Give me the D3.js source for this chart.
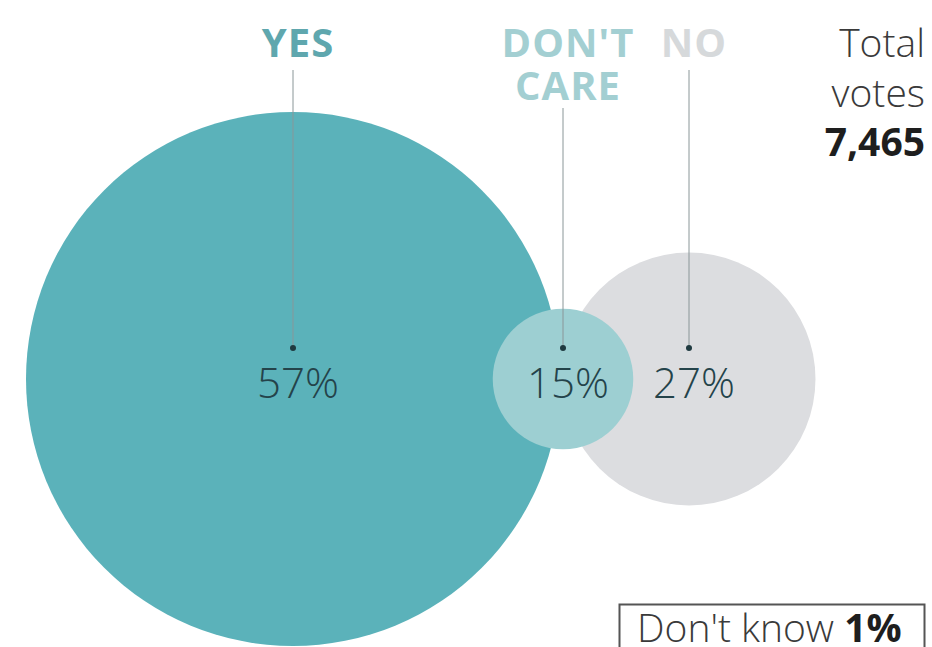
<!DOCTYPE html>
<html>
<head>
<meta charset="utf-8">
<script src="https://cdn.jsdelivr.net/npm/d3@7"></script>
<style>
  body { margin: 0; background: #fff; }
  svg { display: block; font-family: "Open Sans", "Noto Sans", sans-serif; }
</style>
</head>
<body>
<svg id="chart"></svg>
<script>
// answers, shares (%) and label lines
const answers = ["YES", "DON'T CARE", "NO"];
const shares = [57, 15, 27];
const labelLines = [["YES"], ["DON'T", "CARE"], ["NO"]];
const totalVotes = 7465;
const dontKnow = 1;

const width = 932;
const height = 647;
const cy = 379;

const svg = d3.select("#chart")
    .attr("width", width)
    .attr("height", height);

// radius is linear with the share
const r = d3.scaleLinear()
    .domain([0, d3.max(shares)])
    .range([0, 267]);

// circle centres along one row
const x = d3.scaleOrdinal()
    .domain(answers)
    .range([293, 563, 689]);

const fills = d3.scaleOrdinal()
    .domain(answers)
    .range(["#5bb2ba", "#9dcfd2", "#dcdde0"]);

const titleColor = d3.scaleOrdinal()
    .domain(answers)
    .range(["#5fa7ae", "#a3cfd2", "#d6d9db"]);

const data = answers.map((a, i) => ({answer: a, share: shares[i], lines: labelLines[i]}));

// draw order: big, grey, then the small one on top
const drawOrder = [data[0], data[2], data[1]];

svg.append("g")
    .selectAll("circle")
    .data(drawOrder)
    .enter().append("circle")
    .attr("cx", d => x(d.answer))
    .attr("cy", cy)
    .attr("r", d => r(d.share))
    .attr("fill", d => fills(d.answer));

// leader lines and dots
const leaders = svg.append("g");
leaders.selectAll("line")
    .data(data)
    .enter().append("line")
    .attr("x1", d => x(d.answer))
    .attr("x2", d => x(d.answer))
    .attr("y1", d => d.lines.length > 1 ? 108 : 70)
    .attr("y2", cy - 31)
    .attr("stroke", "#8a9698")
    .attr("stroke-width", 1);

leaders.selectAll("circle")
    .data(data)
    .enter().append("circle")
    .attr("cx", d => x(d.answer))
    .attr("cy", cy - 31)
    .attr("r", 3)
    .attr("fill", "#1f3a40");

// category titles
const titles = svg.append("g")
    .attr("text-anchor", "middle")
    .attr("font-weight", 700)
    .attr("font-size", 40)
    .attr("letter-spacing", 1);

titles.selectAll("text")
    .data(data)
    .enter().append("text")
    .attr("y", 57)
    .attr("fill", d => titleColor(d.answer))
    .selectAll("tspan")
    .data(d => d.lines.map((l, i) => ({l, i, x: x(d.answer) + 5})))
    .enter().append("tspan")
    .attr("x", t => t.x)
    .attr("dy", t => t.i === 0 ? 0 : 43)
    .text(t => t.l);

// percent labels
svg.append("g")
    .attr("text-anchor", "middle")
    .attr("font-weight", 300)
    .attr("font-size", 42)
    .attr("fill", "#24434a")
    .selectAll("text")
    .data(data)
    .enter().append("text")
    .attr("x", d => x(d.answer) + 5)
    .attr("y", 398)
    .text(d => d.share + "%");

// total votes
const total = svg.append("text")
    .attr("text-anchor", "end")
    .attr("font-size", 39)
    .attr("font-weight", 300)
    .attr("fill", "#3a3a3a");
total.append("tspan").attr("x", 925).attr("y", 57).text("Total");
total.append("tspan").attr("x", 925).attr("y", 107).text("votes");
total.append("tspan").attr("x", 925).attr("y", 156)
    .attr("font-weight", 700).attr("fill", "#1e1e1e")
    .text(d3.format(",")(totalVotes));

// don't know box
svg.append("rect")
    .attr("x", 619.5)
    .attr("y", 604.5)
    .attr("width", 305)
    .attr("height", 48)
    .attr("fill", "#fff")
    .attr("stroke", "#555")
    .attr("stroke-width", 2);

const dk = svg.append("text")
    .attr("x", 637)
    .attr("y", 642)
    .attr("font-size", 39)
    .attr("fill", "#3a3a3a");
dk.append("tspan").attr("font-weight", 300).text("Don't know ");
dk.append("tspan").attr("font-weight", 700).attr("fill", "#1e1e1e").text(dontKnow + "%");
</script>
</body>
</html>
